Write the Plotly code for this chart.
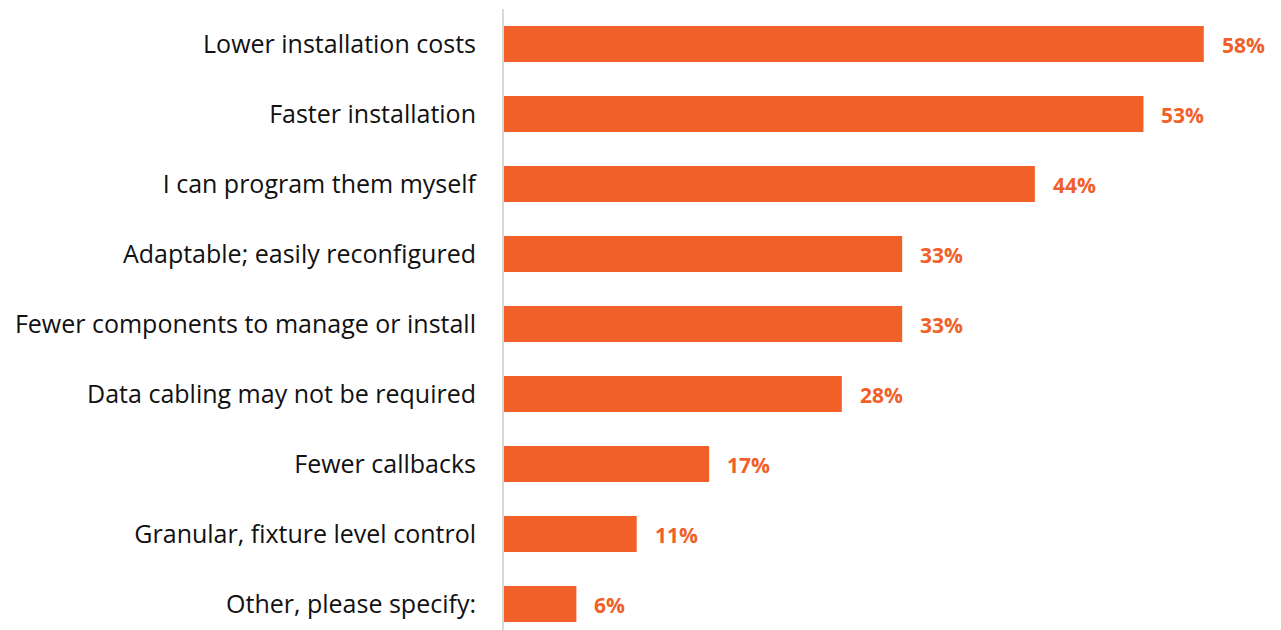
import plotly.graph_objects as go

categories = [
    "Lower installation costs",
    "Faster installation",
    "I can program them myself",
    "Adaptable; easily reconfigured",
    "Fewer components to manage or install",
    "Data cabling may not be required",
    "Fewer callbacks",
    "Granular, fixture level control",
    "Other, please specify:",
]
values = [58, 53, 44, 33, 33, 28, 17, 11, 6]
value_labels = [f"{v}%" for v in values]

BAR_COLOR = "#F26029"
FONT = "Open Sans, Noto Sans, sans-serif"

fig = go.Figure(
    go.Bar(
        x=values,
        y=categories,
        orientation="h",
        marker=dict(color=BAR_COLOR, line=dict(width=0)),
        hoverinfo="skip",
    )
)

for cat, v, lab in zip(categories, values, value_labels):
    fig.add_annotation(
        x=v, y=cat, text=f"<b>{lab}</b>", showarrow=False,
        xanchor="left", xshift=16, yshift=-1,
        font=dict(family=FONT, size=21, color=BAR_COLOR),
    )

fig.update_layout(
    width=1281, height=630,
    margin=dict(l=504, r=0, t=9, b=0),
    paper_bgcolor="white", plot_bgcolor="white",
    bargap=0.486,
    showlegend=False,
    font=dict(family=FONT, color="#111111"),
)
fig.update_xaxes(
    range=[0, 64.4], visible=False, fixedrange=True,
)
fig.update_yaxes(
    type="category",
    range=[8.37, -0.5],
    showline=True, linecolor="#D9D9D9", linewidth=2,
    showgrid=False, zeroline=False,
    ticks="", ticklabelstandoff=21,
    tickfont=dict(family=FONT, size=25, color="#111111"),
    fixedrange=True,
)

fig.write_html("out.html", config={"displayModeBar": False})
